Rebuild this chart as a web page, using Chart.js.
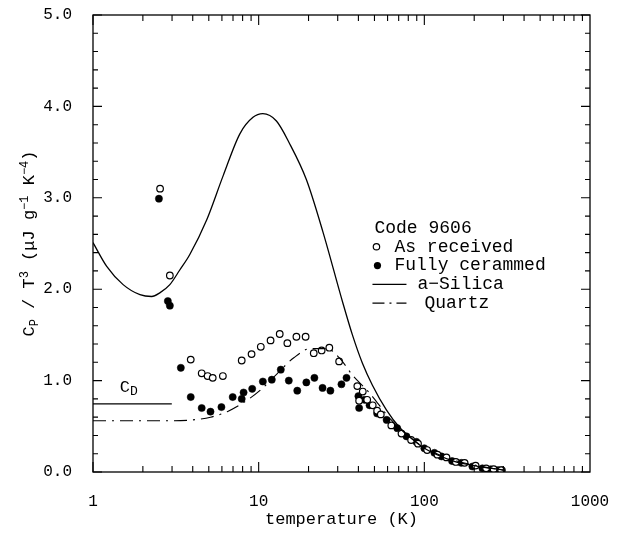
<!DOCTYPE html>
<html>
<head>
<meta charset="utf-8">
<script src="https://cdn.jsdelivr.net/npm/chart.js@4/dist/chart.umd.min.js"></script>
<style>
  body { margin: 0; background: #fff; }
  #wrap { width: 620px; height: 533px; position: relative; }
</style>
</head>
<body>
<div id="wrap"><canvas id="chart"></canvas></div>
<script>
// a-Silica curve (solid)
const silicaT = [1, 1.21, 1.52, 1.92, 2.26, 2.53, 2.91, 3.34, 3.84, 4.86, 6.1, 7.7, 9.24, 10.6, 12.8, 15.3, 19.4, 24.4, 32.1, 36.8, 42.3, 48.6, 59, 70.7, 83.5, 100, 150, 200, 300];
const silicaC = [2.51, 2.25, 2.05, 1.94, 1.92, 1.96, 2.05, 2.21, 2.38, 2.76, 3.24, 3.70, 3.88, 3.92, 3.84, 3.60, 3.20, 2.63, 1.86, 1.50, 1.19, 0.95, 0.68, 0.49, 0.37, 0.26, 0.12, 0.07, 0.02];

// Quartz curve (dash-dot)
const quartzT = [1, 2.96, 3.98, 5.12, 6.46, 8.11, 10.3, 13.0, 16.3, 20.6, 25.8, 31, 36.8, 46.4, 51.9, 62.3, 83.2, 104, 157, 209, 300];
const quartzC = [0.56, 0.56, 0.57, 0.60, 0.66, 0.76, 0.90, 1.08, 1.25, 1.35, 1.35, 1.24, 1.06, 0.87, 0.76, 0.58, 0.37, 0.25, 0.12, 0.07, 0.02];

// Debye level C_D
const debyeT = [1, 2.99];
const debyeC = [0.745, 0.745];

// As received (open circles)
const asRecT = [2.54, 2.91, 3.89, 4.53, 4.92, 5.28, 6.08, 7.9, 9.06, 10.3, 11.8, 13.4, 14.9, 16.9, 19.2, 21.5, 24.0, 26.7, 30.6, 39.4, 40.4, 42.5, 45.2, 48.8, 51.9, 54.6, 63.2, 72.8, 83.2, 91.6, 104, 120, 136, 155, 175, 204, 236, 262, 291];
const asRecC = [3.10, 2.15, 1.23, 1.08, 1.05, 1.03, 1.05, 1.22, 1.29, 1.37, 1.44, 1.51, 1.41, 1.48, 1.48, 1.30, 1.33, 1.36, 1.21, 0.94, 0.78, 0.88, 0.79, 0.73, 0.67, 0.63, 0.51, 0.42, 0.35, 0.31, 0.24, 0.19, 0.16, 0.11, 0.10, 0.07, 0.04, 0.03, 0.02];

// Fully cerammed (filled circles)
const ceramT = [2.50, 2.83, 2.91, 3.39, 3.89, 4.53, 5.12, 5.96, 6.97, 7.9, 8.11, 9.14, 10.6, 12.0, 13.6, 15.2, 17.1, 19.4, 21.7, 24.3, 27.1, 31.6, 33.9, 40.0, 40.4, 43.5, 46.7, 51.9, 59.2, 68.6, 78, 89.5, 100, 115, 127, 147, 167, 195, 224, 251, 279, 294];
const ceramC = [2.99, 1.87, 1.82, 1.14, 0.82, 0.70, 0.66, 0.71, 0.82, 0.80, 0.87, 0.91, 0.99, 1.01, 1.12, 1.00, 0.89, 0.98, 1.03, 0.92, 0.89, 0.96, 1.03, 0.83, 0.70, 0.79, 0.73, 0.64, 0.57, 0.48, 0.39, 0.33, 0.26, 0.21, 0.17, 0.12, 0.10, 0.06, 0.04, 0.03, 0.02, 0.02];

const xDecades = [1, 10, 100, 1000];
const yMajor = [0, 1, 2, 3, 4, 5];

const FONT = "'Liberation Mono', 'DejaVu Sans Mono', monospace";

function pts(xs, ys) {
  return xs.map((x, i) => ({ x: x, y: ys[i] }));
}

function noPad(s) {
  s.paddingTop = 0;
  s.paddingBottom = 0;
  s.paddingLeft = 0;
  s.paddingRight = 0;
}

// box frame with inward ticks on all four sides
const framePlugin = {
  id: "frame",
  afterDraw(chart) {
    const { ctx, chartArea: a, scales } = chart;
    const xs = scales.x, ys = scales.y;
    ctx.save();
    ctx.strokeStyle = "#000";
    ctx.lineWidth = 1.3;
    ctx.strokeRect(a.left, a.top, a.right - a.left, a.bottom - a.top);
    ctx.beginPath();
    ctx.lineWidth = 1.1;
    for (let d = 0; d < 3; d++) {
      for (let m = 1; m <= 9; m++) {
        const v = m * Math.pow(10, d);
        const px = xs.getPixelForValue(v);
        const len = m === 1 ? 10 : 6;
        ctx.moveTo(px, a.bottom); ctx.lineTo(px, a.bottom - len);
        ctx.moveTo(px, a.top); ctx.lineTo(px, a.top + len);
      }
    }
    for (let i = 0; i <= 25; i++) {
      const v = i * 0.2;
      const py = ys.getPixelForValue(v);
      const len = i % 5 === 0 ? 9 : 5;
      ctx.moveTo(a.left, py); ctx.lineTo(a.left + len, py);
      ctx.moveTo(a.right, py); ctx.lineTo(a.right - len, py);
    }
    ctx.stroke();
    ctx.restore();
  }
};

// y title with sub/superscripts, C_D label and the legend
const textPlugin = {
  id: "texts",
  afterDraw(chart) {
    const { ctx, scales } = chart;
    const xs = scales.x, ys = scales.y;
    ctx.save();
    ctx.fillStyle = "#000";
    ctx.textBaseline = "alphabetic";

    // y axis title
    const parts = [
      ["C", 0], ["P", 1], [" / T", 0], ["3", -1], [" (\u03bcJ g", 0], ["\u22121", -1], [" K", 0], ["\u22124", -1], [")", 0]
    ];
    const big = "17px " + FONT, small = "12px " + FONT;
    let total = 0;
    parts.forEach(p => { ctx.font = p[1] ? small : big; total += ctx.measureText(p[0]).width; });
    ctx.translate(29, (ys.getPixelForValue(0) + ys.getPixelForValue(5)) / 2);
    ctx.rotate(-Math.PI / 2);
    let cx = -total / 2;
    parts.forEach(p => {
      ctx.font = p[1] ? small : big;
      const dy = p[1] === 1 ? 4 : p[1] === -1 ? -6 : 0;
      ctx.fillText(p[0], cx, 5 + dy);
      cx += ctx.measureText(p[0]).width;
    });
    ctx.setTransform(1, 0, 0, 1, 0, 0);

    // C_D label
    const cdx = xs.getPixelForValue(1.45), cdy = ys.getPixelForValue(0.88);
    ctx.font = "17px " + FONT;
    ctx.fillText("C", cdx, cdy);
    const cw = ctx.measureText("C").width;
    ctx.font = "13px " + FONT;
    ctx.fillText("D", cdx + cw, cdy + 3);

    // legend
    const lx = xs.getPixelForValue(50), ly = ys.getPixelForValue(2.67);
    const step = 18.8;
    ctx.font = "18px " + FONT;
    ctx.textBaseline = "middle";
    ctx.fillText("Code 9606", lx, ly);
    ctx.lineWidth = 1.2;
    ctx.strokeStyle = "#000";
    ctx.beginPath(); ctx.arc(lx + 2, ly + step, 3.2, 0, Math.PI * 2); ctx.stroke();
    ctx.fillText("As received", lx + 20, ly + step);
    ctx.beginPath(); ctx.arc(lx + 3, ly + 2 * step, 3.6, 0, Math.PI * 2); ctx.fill();
    ctx.fillText("Fully cerammed", lx + 20, ly + 2 * step);
    ctx.lineWidth = 1.3;
    ctx.beginPath(); ctx.moveTo(lx - 2, ly + 3 * step); ctx.lineTo(lx + 32, ly + 3 * step); ctx.stroke();
    ctx.fillText("a\u2212Silica", lx + 43, ly + 3 * step);
    ctx.setLineDash([12, 5, 2, 5, 10, 0]);
    ctx.beginPath(); ctx.moveTo(lx - 2, ly + 4 * step); ctx.lineTo(lx + 32, ly + 4 * step); ctx.stroke();
    ctx.setLineDash([]);
    ctx.fillText("Quartz", lx + 50, ly + 4 * step);
    ctx.restore();
  }
};

const ctx = document.getElementById("chart").getContext("2d");
new Chart(ctx, {
  type: "scatter",
  data: {
    datasets: [
      {
        label: "a-Silica",
        data: pts(silicaT, silicaC),
        showLine: true,
        borderColor: "#000",
        borderWidth: 1.3,
        pointRadius: 0,
        cubicInterpolationMode: "monotone",
        fill: false,
      },
      {
        label: "Quartz",
        data: pts(quartzT, quartzC),
        showLine: true,
        borderColor: "#000",
        borderWidth: 1.1,
        borderDash: [13, 6, 2, 6],
        pointRadius: 0,
        cubicInterpolationMode: "monotone",
        fill: false,
      },
      {
        label: "CD",
        data: pts(debyeT, debyeC),
        showLine: true,
        borderColor: "#000",
        borderWidth: 1.2,
        pointRadius: 0,
        fill: false,
      },
      {
        label: "As received",
        data: pts(asRecT, asRecC),
        pointRadius: 3.3,
        pointBackgroundColor: "#fff",
        pointBorderColor: "#000",
        pointBorderWidth: 1.2,
      },
      {
        label: "Fully cerammed",
        data: pts(ceramT, ceramC),
        pointRadius: 3.6,
        pointBackgroundColor: "#000",
        pointBorderColor: "#000",
        pointBorderWidth: 0.5,
      },
    ],
  },
  options: {
    responsive: true,
    maintainAspectRatio: false,
    animation: false,
    layout: { padding: { top: 15, right: 30, left: 0, bottom: 0 } },
    plugins: {
      legend: { display: false },
      tooltip: { enabled: false },
    },
    scales: {
      x: {
        type: "logarithmic",
        min: 1,
        max: 1000,
        grid: { display: false, drawTicks: false },
        border: { display: false },
        afterFit: s => { s.height = 61; noPad(s); },
        ticks: {
          color: "#000",
          font: { family: FONT, size: 16 },
          padding: 20,
          autoSkip: false,
          maxRotation: 0,
          callback: v => (xDecades.includes(v) ? String(v) : ""),
        },
        title: {
          display: true,
          text: "temperature (K)",
          color: "#000",
          font: { family: FONT, size: 17 },
          padding: { top: 0, bottom: 3 },
        },
      },
      y: {
        min: 0,
        max: 5,
        grid: { display: false, drawTicks: false },
        border: { display: false },
        afterFit: s => { s.width = 93; noPad(s); },
        ticks: {
          color: "#000",
          font: { family: FONT, size: 16 },
          padding: 21,
          stepSize: 1,
          callback: v => (yMajor.includes(v) ? v.toFixed(1) : ""),
        },
      },
    },
  },
  plugins: [framePlugin, textPlugin],
});
</script>
</body>
</html>
